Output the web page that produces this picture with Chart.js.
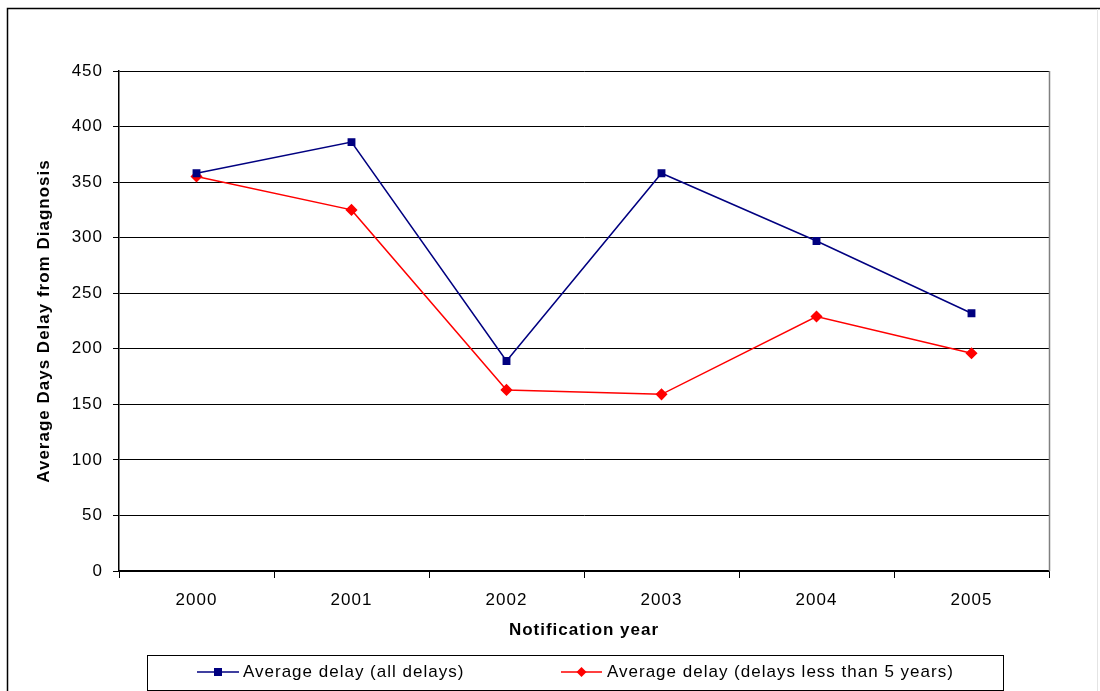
<!DOCTYPE html>
<html lang="en">
<head>
    <meta charset="UTF-8">
    <title>Average Days Delay from Diagnosis</title>
    <script src="https://cdn.jsdelivr.net/npm/chart.js"></script>
    <style>
        body {
            margin: 0;
            background: #ffffff;
        }
        canvas {
            display: block;
        }
    </style>
</head>
<body>
    <canvas id="delayChart" width="1100" height="691"></canvas>

    <script>
        "use strict";

        // Notification years and average delays (days)
        const years = ['2000', '2001', '2002', '2003', '2004', '2005'];
        const allDelays = [358, 386, 189, 358, 297, 232];
        const shortDelays = [355, 325, 163, 159, 229, 196];
        const seriesLabels = ['Average delay (all delays)', 'Average delay (delays less than 5 years)'];

        const FONT = '"Liberation Sans", Arial, sans-serif';

        // Outer frame, right border of the plot and the boxed legend under the axis
        const framePlugin = {
            id: 'frameAndLegend',
            beforeDraw(chart) {
                const ctx = chart.ctx;
                ctx.letterSpacing = '1px'; // wide spacing for all chart text
                ctx.save();
                ctx.fillStyle = '#ffffff';
                ctx.fillRect(0, 0, chart.width, chart.height);
                ctx.strokeStyle = '#000000';
                ctx.lineWidth = 1.5;
                ctx.beginPath();
                ctx.moveTo(7.5, chart.height);
                ctx.lineTo(7.5, 8.5);
                ctx.lineTo(chart.width, 8.5);
                ctx.stroke();
                ctx.strokeStyle = '#e4e4e4';
                ctx.lineWidth = 1;
                ctx.beginPath();
                ctx.moveTo(1097.5, 9);
                ctx.lineTo(1097.5, chart.height);
                ctx.stroke();
                ctx.restore();
            },
            afterDraw(chart) {
                const ctx = chart.ctx;
                const area = chart.chartArea;
                ctx.save();
                ctx.strokeStyle = '#808080';
                ctx.lineWidth = 1.5;
                ctx.beginPath();
                ctx.moveTo(area.right + 0.5, area.top);
                ctx.lineTo(area.right + 0.5, area.bottom);
                ctx.stroke();

                // legend box
                ctx.strokeStyle = '#000000';
                ctx.lineWidth = 1;
                ctx.strokeRect(147.5, 655.5, 856, 35);

                const items = [
                    { x0: 197, x1: 239, tx: 243 },
                    { x0: 561, x1: 602, tx: 607 }
                ];
                const y = 672;
                ctx.font = '17px ' + FONT;
                ctx.textBaseline = 'middle';
                chart.data.datasets.forEach((ds, i) => {
                    const it = items[i];
                    ctx.strokeStyle = ds.borderColor;
                    ctx.lineWidth = 1.5;
                    ctx.beginPath();
                    ctx.moveTo(it.x0, y);
                    ctx.lineTo(it.x1, y);
                    ctx.stroke();
                    const cx = (it.x0 + it.x1) / 2;
                    ctx.fillStyle = ds.pointBackgroundColor;
                    if (ds.pointStyle === 'rect') {
                        ctx.fillRect(cx - 4, y - 4, 8, 8);
                    } else {
                        ctx.beginPath();
                        ctx.moveTo(cx, y - 5);
                        ctx.lineTo(cx + 5, y);
                        ctx.lineTo(cx, y + 5);
                        ctx.lineTo(cx - 5, y);
                        ctx.closePath();
                        ctx.fill();
                    }
                    ctx.fillStyle = '#000000';
                    ctx.fillText(ds.label, it.tx, y);
                });
                ctx.restore();
            }
        };

        const ctx = document.getElementById('delayChart').getContext('2d');
        const delayChart = new Chart(ctx, {
            type: 'line',
            data: {
                labels: years,
                datasets: [
                    {
                        label: seriesLabels[0],
                        data: allDelays,
                        borderColor: '#000080',
                        backgroundColor: '#000080',
                        pointBackgroundColor: '#000080',
                        pointBorderColor: '#000080',
                        pointStyle: 'rect',
                        pointRadius: 4.5,
                        borderWidth: 1.5,
                        tension: 0
                    },
                    {
                        label: seriesLabels[1],
                        data: shortDelays,
                        borderColor: '#ff0000',
                        backgroundColor: '#ff0000',
                        pointBackgroundColor: '#ff0000',
                        pointBorderColor: '#ff0000',
                        pointStyle: 'rectRot',
                        pointRadius: 5,
                        borderWidth: 1.5,
                        tension: 0
                    }
                ]
            },
            options: {
                responsive: false,
                animation: false,
                layout: {
                    padding: { left: 0, top: 71, right: 51, bottom: 0 }
                },
                plugins: {
                    legend: { display: false },
                    tooltip: { enabled: false }
                },
                scales: {
                    x: {
                        offset: true,
                        grid: {
                            offset: true,
                            drawOnChartArea: false,
                            drawTicks: true,
                            tickLength: 7,
                            color: '#000000'
                        },
                        border: { color: '#000000', width: 1.5 },
                        ticks: {
                            color: '#000000',
                            padding: 12,
                            font: { family: FONT, size: 17 }
                        },
                        title: {
                            display: true,
                            text: 'Notification year',
                            color: '#000000',
                            font: { family: FONT, size: 17, weight: 'bold' },
                            padding: { top: 0, bottom: 50 }
                        },
                        afterFit(scale) {
                            scale.height = 120;
                        }
                    },
                    y: {
                        min: 0,
                        max: 450,
                        ticks: {
                            stepSize: 50,
                            color: '#000000',
                            padding: 10,
                            font: { family: FONT, size: 17 }
                        },
                        grid: {
                            color: '#000000',
                            lineWidth: 1,
                            tickLength: 6
                        },
                        border: { color: '#000000', width: 1.5 },
                        title: {
                            display: true,
                            text: 'Average Days Delay from Diagnosis',
                            color: '#000000',
                            font: { family: FONT, size: 17, weight: 'bold' },
                            padding: { top: 34, bottom: 0 }
                        },
                        afterFit(scale) {
                            scale.width = 119;
                        }
                    }
                }
            },
            plugins: [framePlugin]
        });
    </script>
</body>
</html>
